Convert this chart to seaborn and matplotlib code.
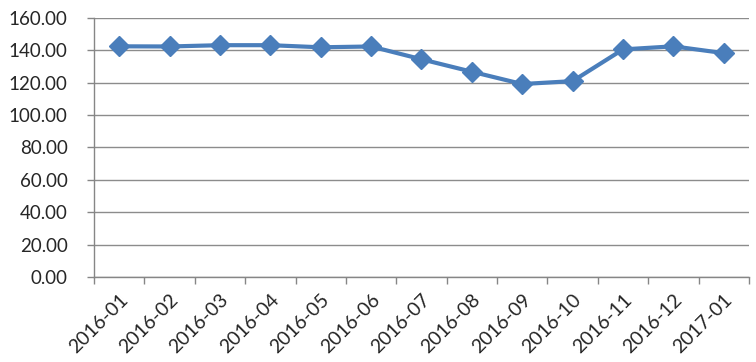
import matplotlib
matplotlib.use("Agg")
import matplotlib.pyplot as plt
import seaborn as sns
import pandas as pd
import numpy as np
from matplotlib.ticker import FixedLocator, FormatStrFormatter

months = ["2016-01", "2016-02", "2016-03", "2016-04", "2016-05", "2016-06", "2016-07",
          "2016-08", "2016-09", "2016-10", "2016-11", "2016-12", "2017-01"]
values = [142.5, 142.4, 143.2, 143.2, 141.9, 142.4, 134.5, 126.8, 119.2, 121.0, 140.6, 142.5, 138.3]
yticks = [0, 20, 40, 60, 80, 100, 120, 140, 160]

sns.set_style("white")
plt.rcParams['font.family'] = ['Lato', 'DejaVu Sans']

df = pd.DataFrame({"month": months, "value": values, "pos": np.arange(len(months))})

fig = plt.figure(figsize=(7.56, 3.62), dpi=100)
ax = fig.add_axes([0.1243, 0.2348, 0.8664, 0.7155])

sns.lineplot(data=df, x="pos", y="value", ax=ax, color="#4A7EBB", linewidth=3,
             marker="D", markersize=10, markeredgecolor="#4A7EBB", markeredgewidth=1)

ax.set_xlim(-0.5, len(months) - 0.5)
ax.set_ylim(0, 160)
ax.set_yticks(yticks)
ax.yaxis.set_major_formatter(FormatStrFormatter("%.2f"))
ax.set_xticks(np.arange(len(months)))
ax.set_xticklabels(months, rotation=45, ha="right", rotation_mode="anchor")
ax.xaxis.set_minor_locator(FixedLocator(np.arange(len(months) + 1) - 0.5))
for lbl in ax.get_xticklabels():
    lbl.set_x(lbl.get_position()[0])
ax.tick_params(axis="x", which="major", length=0, labelsize=14, pad=10)
ax.tick_params(axis="x", which="minor", length=5, color="#868686", width=1, direction="out", bottom=True)
ax.tick_params(axis="y", which="major", length=5, color="#868686", width=1, direction="out", left=True, labelsize=13.5, pad=14)
ax.set_xlabel("")
ax.set_ylabel("")
ax.grid(axis="y", color="#8C8C8C", linewidth=1)
ax.grid(axis="x", visible=False)
for s in ["top", "right"]:
    ax.spines[s].set_visible(False)
for s in ["left", "bottom"]:
    ax.spines[s].set_color("#868686")
    ax.spines[s].set_linewidth(1)
ax.set_axisbelow(True)

fig.savefig("out.png", dpi=100)
